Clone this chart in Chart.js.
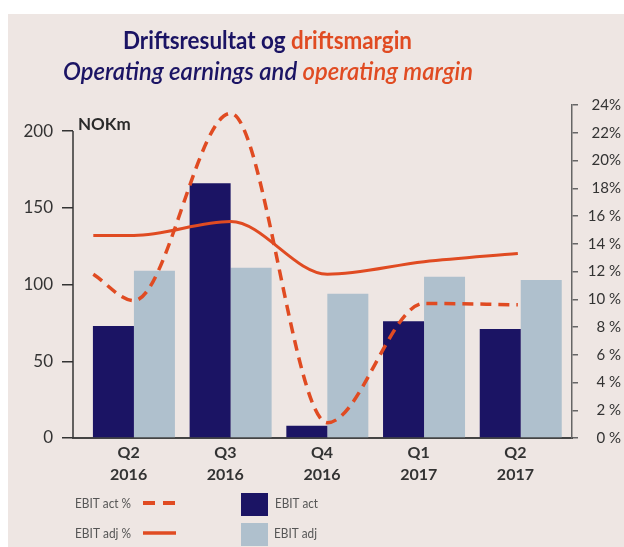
<!DOCTYPE html>
<html>
<head>
<meta charset="utf-8">
<script src="https://cdn.jsdelivr.net/npm/chart.js@4.4.0/dist/chart.umd.min.js"></script>
<style>
  html, body { margin: 0; padding: 0; background: #fff; }
  canvas { display: block; }
</style>
</head>
<body>
<canvas id="grafikk" width="624" height="547"></canvas>
<script>
const kvartaler = [['Q2', '2016'], ['Q3', '2016'], ['Q4', '2016'], ['Q1', '2017'], ['Q2', '2017']];
const ebitAct = [73, 166, 8, 76, 71];
const ebitAdj = [109, 111, 94, 105, 103];
// marginlinjene starter litt til venstre for første kvartal
const marginX = [-0.42, 0, 1, 2, 3, 3.97];
const ebitActPct = [11.8, 9.9, 23.4, 1.1, 9.7, 9.6];
const ebitAdjPct = [14.6, 14.6, 15.6, 11.8, 12.7, 13.3];
const venstreTicks = [0, 50, 100, 150, 200];
const hoyreTicks = ['0 %', '2 %', '4 %', '6 %', '8 %', '10 %', '12 %', '14 %', '16 %', '18%', '20%', '22%', '24%'];

const NAVY = '#1b1464';
const LYSBLA = '#afc0cd';
const ORANSJE = '#e04b22';
const TEKST = '#333';
const FONT = 'Lato, "Open Sans", sans-serif';

const bakgrunn = {
  id: 'bakgrunn',
  beforeDraw(chart) {
    const ctx = chart.ctx;
    ctx.save();
    ctx.fillStyle = '#eee6e3';
    ctx.fillRect(8, 14, chart.width - 8, chart.height - 14);
    ctx.restore();
  }
};

// tegner tekst i flere farger, presset til ønsket bredde
function tekstLinje(ctx, deler, font, x0, bredde, y) {
  ctx.font = font;
  const full = deler.map(d => d[0]).join('');
  const sx = bredde / ctx.measureText(full).width;
  ctx.save();
  ctx.translate(x0, y);
  ctx.scale(sx, 1);
  let x = 0;
  deler.forEach(([t, farge]) => {
    ctx.fillStyle = farge;
    ctx.fillText(t, x, 0);
    x += ctx.measureText(t).width;
  });
  ctx.restore();
}

const pynt = {
  id: 'pynt',
  afterDraw(chart) {
    const ctx = chart.ctx;
    const y = chart.scales.y;
    ctx.save();
    ctx.textBaseline = 'alphabetic';
    ctx.textAlign = 'left';

    // tittel
    tekstLinje(ctx, [['Driftsresultat og ', NAVY], ['driftsmargin', ORANSJE]],
      'bold 24px ' + FONT, 123, 289, 49);
    tekstLinje(ctx, [['Operating earnings and ', NAVY], ['operating margin', ORANSJE]],
      'italic 600 24px ' + FONT, 63, 410, 80);

    // venstre akselinje bare fra 0 til 200
    ctx.strokeStyle = '#333';
    ctx.lineWidth = 1.5;
    ctx.beginPath();
    ctx.moveTo(y.right, y.getPixelForValue(200));
    ctx.lineTo(y.right, y.getPixelForValue(0));
    ctx.stroke();

    ctx.fillStyle = '#2a2a2a';
    ctx.font = 'bold 17px ' + FONT;
    ctx.fillText('NOKm', 78, 130);

    // forklaring
    const f = '14px ' + FONT;
    tekstLinje(ctx, [['EBIT act %', '#555']], f, 75, 56, 508);
    tekstLinje(ctx, [['EBIT adj %', '#555']], f, 75, 56, 538);
    tekstLinje(ctx, [['EBIT act', '#555']], f, 275, 43, 508);
    tekstLinje(ctx, [['EBIT adj', '#555']], f, 274, 43, 538);

    ctx.strokeStyle = ORANSJE;
    ctx.lineWidth = 4;
    ctx.setLineDash([12, 8]);
    ctx.beginPath();
    ctx.moveTo(143, 503);
    ctx.lineTo(176, 503);
    ctx.stroke();
    ctx.setLineDash([]);
    ctx.lineWidth = 3.5;
    ctx.beginPath();
    ctx.moveTo(143, 533);
    ctx.lineTo(176, 533);
    ctx.stroke();

    ctx.fillStyle = NAVY;
    ctx.fillRect(241, 493, 27, 23);
    ctx.fillStyle = LYSBLA;
    ctx.fillRect(241, 523, 27, 23);
    ctx.restore();
  }
};

new Chart(document.getElementById('grafikk'), {
  type: 'bar',
  data: {
    datasets: [
      {
        label: 'EBIT act',
        data: ebitAct.map((v, i) => ({ x: i, y: v })),
        backgroundColor: NAVY,
        yAxisID: 'y',
        order: 2,
        categoryPercentage: 0.848,
        barPercentage: 1
      },
      {
        label: 'EBIT adj',
        data: ebitAdj.map((v, i) => ({ x: i, y: v })),
        backgroundColor: LYSBLA,
        yAxisID: 'y',
        order: 2,
        categoryPercentage: 0.848,
        barPercentage: 1
      },
      {
        type: 'line',
        label: 'EBIT act %',
        data: ebitActPct.map((v, i) => ({ x: marginX[i], y: v })),
        borderColor: ORANSJE,
        borderWidth: 3.5,
        borderDash: [11, 7],
        cubicInterpolationMode: 'monotone',
        pointRadius: 0,
        fill: false,
        yAxisID: 'y1',
        order: 0
      },
      {
        type: 'line',
        label: 'EBIT adj %',
        data: ebitAdjPct.map((v, i) => ({ x: marginX[i], y: v })),
        borderColor: ORANSJE,
        borderWidth: 3,
        cubicInterpolationMode: 'monotone',
        pointRadius: 0,
        fill: false,
        yAxisID: 'y1',
        order: 1
      }
    ]
  },
  options: {
    responsive: false,
    animation: false,
    layout: { padding: { top: 105, right: 3, left: 0, bottom: 0 } },
    plugins: {
      legend: { display: false },
      tooltip: { enabled: false },
      title: { display: false }
    },
    scales: {
      x: {
        type: 'linear',
        offset: false,
        min: -0.63,
        max: 4.53,
        afterBuildTicks: s => { s.ticks = kvartaler.map((_, i) => ({ value: i - 0.055 })); },
        afterFit: s => { s.height = 109; },
        grid: { display: false, drawTicks: false, offset: false },
        border: { display: true, color: '#444', width: 2 },
        ticks: {
          autoSkip: false,
          maxRotation: 0,
          padding: 4,
          color: TEKST,
          font: { family: FONT, size: 16, weight: 'bold', lineHeight: 1.35 },
          callback: (v, i) => kvartaler[i]
        }
      },
      y: {
        position: 'left',
        min: 0,
        max: 217,
        afterBuildTicks: s => { s.ticks = venstreTicks.map(v => ({ value: v })); },
        afterFit: s => { s.width = 73; },
        grid: { drawOnChartArea: false, drawTicks: true, tickLength: 11, color: '#333', lineWidth: 1.5 },
        border: { display: false },
        ticks: {
          padding: 9,
          color: TEKST,
          font: { family: FONT, size: 17 }
        }
      },
      y1: {
        position: 'right',
        min: 0,
        max: 24,
        afterFit: s => { s.width = 49; },
        grid: { drawOnChartArea: false, drawTicks: true, tickLength: 6, color: '#666', lineWidth: 1.5 },
        border: { display: true, color: '#666', width: 1.5 },
        ticks: {
          stepSize: 2,
          crossAlign: 'far',
          padding: 4,
          color: TEKST,
          font: { family: FONT, size: 15 },
          callback: (v, i) => hoyreTicks[i]
        }
      }
    }
  },
  plugins: [bakgrunn, pynt]
});
</script>
</body>
</html>
